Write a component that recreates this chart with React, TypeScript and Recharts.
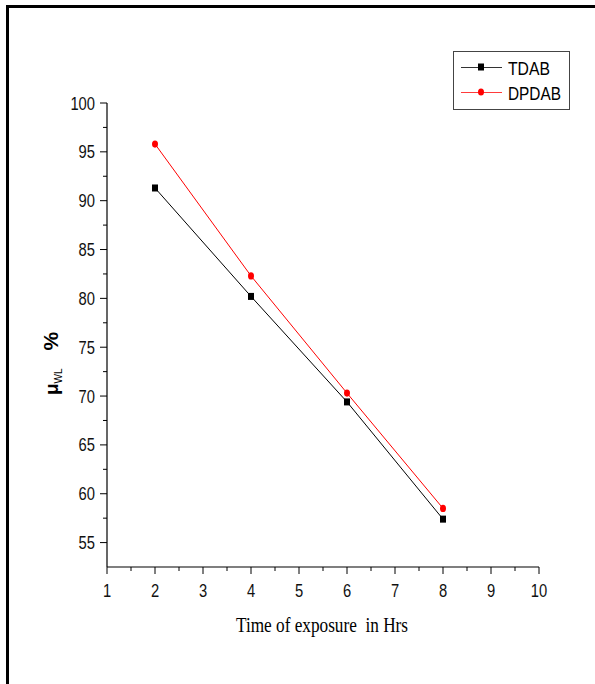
import React from "react";
import { LineChart, Line, XAxis, YAxis, Legend, Label } from "recharts";

// exposure time (hrs) and weight-loss inhibition efficiency (%)
const hours = [2, 4, 6, 8];
const tdab = [91.3, 80.2, 69.4, 57.4];
const dpdab = [95.8, 82.3, 70.3, 58.5];

const xTicks = [1, 1.5, 2, 2.5, 3, 3.5, 4, 4.5, 5, 5.5, 6, 6.5, 7, 7.5, 8, 8.5, 9, 9.5, 10];
const yTicks = [55, 57.5, 60, 62.5, 65, 67.5, 70, 72.5, 75, 77.5, 80, 82.5, 85, 87.5, 90, 92.5, 95, 97.5, 100];

const data = hours.map((h, i) => ({ h, tdab: tdab[i], dpdab: dpdab[i] }));

const SANS = "'Liberation Sans', Arial, sans-serif";

// no narrow font installed, so squeeze the regular one
function narrowLen(s: string, size: number) {
  return String(s).length * 0.456 * size;
}

function XTick(props: any) {
  const { x, y, payload } = props;
  const major = Number.isInteger(payload.value);
  const label = String(payload.value);
  return (
    <g>
      <line x1={x} y1={y} x2={x} y2={y + (major ? 7 : 4)} stroke="#000" strokeWidth={1} />
      {major && (
        <text
          x={x}
          y={y + 30}
          textAnchor="middle"
          fontSize={18}
          fontFamily={SANS}
          textLength={narrowLen(label, 18)}
          lengthAdjust="spacingAndGlyphs"
          fill="#111"
        >
          {label}
        </text>
      )}
    </g>
  );
}

function YTick(props: any) {
  const { x, y, payload } = props;
  const major = payload.value % 5 === 0;
  const label = String(payload.value);
  return (
    <g>
      <line x1={x} y1={y} x2={x - (major ? 7 : 4)} y2={y} stroke="#000" strokeWidth={1} />
      {major && (
        <text
          x={x - 12}
          y={y + 6.5}
          textAnchor="end"
          fontSize={18}
          fontFamily={SANS}
          textLength={narrowLen(label, 18)}
          lengthAdjust="spacingAndGlyphs"
          fill="#111"
        >
          {label}
        </text>
      )}
    </g>
  );
}

function SquareDot(props: any) {
  const { cx, cy } = props;
  if (cx == null || cy == null) return null;
  return <rect x={cx - 3} y={cy - 3.5} width={6} height={7} fill="#000" />;
}

function RoundDot(props: any) {
  const { cx, cy } = props;
  if (cx == null || cy == null) return null;
  return <ellipse cx={cx} cy={cy} rx={3} ry={3.6} fill="#ff0000" />;
}

function YTitle(props: any) {
  const vb = props.viewBox;
  const bx = vb.x + 11;
  const by = vb.y + vb.height / 2 + 60;
  return (
    <text transform={`rotate(-90, ${bx}, ${by})`} x={bx} y={by} fontFamily={SANS} fill="#000">
      <tspan fontSize={19} fontWeight="bold">μ</tspan>
      <tspan fontSize={10} dy={4}>WL</tspan>
      <tspan fontSize={21} fontWeight="bold" dy={-4} dx={18}>%</tspan>
    </text>
  );
}

function XTitle(props: any) {
  const vb = props.viewBox;
  const cx = vb.x + vb.width / 2 - 1;
  return (
    <text
      x={cx}
      y={vb.y + 65}
      textAnchor="middle"
      fontSize={21}
      fontFamily="'Liberation Serif', 'Times New Roman', serif"
      textLength={172}
      lengthAdjust="spacingAndGlyphs"
      fill="#000"
    >
      {"Time of exposure\u00A0 in Hrs"}
    </text>
  );
}

function LegendBox() {
  const rows = [
    { name: "TDAB", line: "#333", dot: <rect x={25} y={12.5} width={6} height={7} fill="#000" /> },
    { name: "DPDAB", line: "#ff3b3b", dot: <ellipse cx={28} cy={41} rx={3} ry={3.6} fill="#ff0000" /> },
  ];
  return (
    <svg width={117} height={59} style={{ display: "block" }}>
      <rect x={0.5} y={0.5} width={116} height={58} fill="#fff" stroke="#444" strokeWidth={1} />
      {rows.map((r, i) => {
        const cy = 16.5 + i * 25;
        return (
          <g key={r.name}>
            <line x1={8} y1={cy} x2={49} y2={cy} stroke={r.line} strokeWidth={1.2} />
            {r.dot}
            <text
              x={55}
              y={cy + 7}
              fontSize={19}
              fontFamily={SANS}
              textLength={r.name === "TDAB" ? 42 : 53}
              lengthAdjust="spacingAndGlyphs"
              fill="#000"
            >
              {r.name}
            </text>
          </g>
        );
      })}
    </svg>
  );
}

export default function App() {
  return (
    <div style={{ position: "absolute", left: 0, top: 0, width: 595, height: 684, background: "#fff", overflow: "hidden" }}>
      <div
        style={{
          position: "absolute",
          left: 6,
          top: 5,
          width: 589,
          height: 679,
          borderLeft: "3px solid #000",
          borderTop: "3px solid #000",
          boxSizing: "border-box",
        }}
      />
      <LineChart
        width={595}
        height={684}
        data={data}
        margin={{ top: 103, right: 56, bottom: 77, left: 47 }}
        style={{ position: "absolute", left: 0, top: 0 }}
      >
        <XAxis
          dataKey="h"
          type="number"
          domain={[1, 10]}
          ticks={xTicks}
          interval={0}
          tickSize={0}
          tickMargin={0}
          tickLine={false}
          tick={<XTick />}
          height={40}
          axisLine={{ stroke: "#000", strokeWidth: 1.2 }}
        >
          <Label content={<XTitle />} />
        </XAxis>
        <YAxis
          type="number"
          domain={[52.5, 100]}
          ticks={yTicks}
          interval={0}
          tickSize={0}
          tickMargin={0}
          tickLine={false}
          tick={<YTick />}
          width={60}
          axisLine={{ stroke: "#000", strokeWidth: 1.2 }}
        >
          <Label content={<YTitle />} />
        </YAxis>
        <Legend
          layout="horizontal"
          verticalAlign="middle"
          align="center"
          content={<LegendBox />}
          wrapperStyle={{ position: "absolute", left: 453, top: 51, width: 117, height: 59 }}
        />
        <Line
          dataKey="tdab"
          name="TDAB"
          stroke="#000"
          strokeWidth={1}
          dot={<SquareDot />}
          activeDot={false}
          isAnimationActive={false}
        />
        <Line
          dataKey="dpdab"
          name="DPDAB"
          stroke="#ff0000"
          strokeWidth={1}
          dot={<RoundDot />}
          activeDot={false}
          isAnimationActive={false}
        />
      </LineChart>
    </div>
  );
}
